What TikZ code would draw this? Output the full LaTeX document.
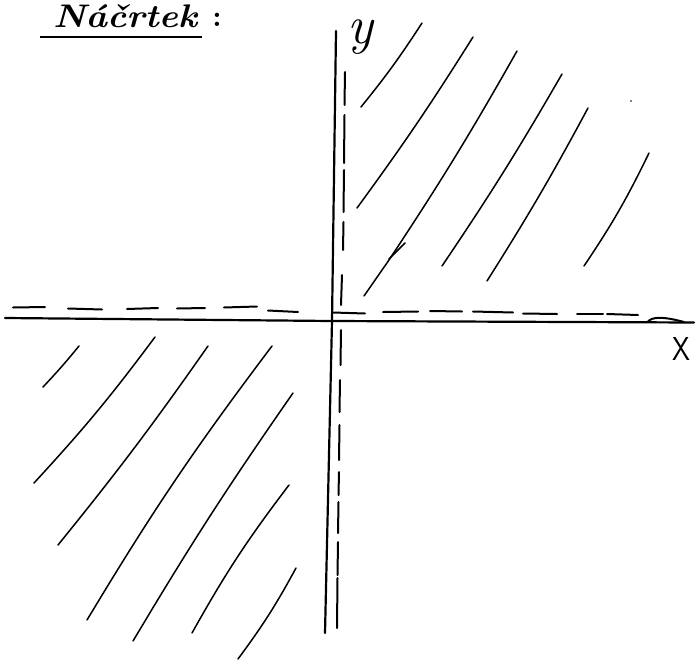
\documentclass[tikz,border=0pt]{standalone}
\usepackage{fontspec}
\begin{document}
\begin{tikzpicture}[x=1pt,y=-1pt,
  axis/.style={line width=2.2pt, line cap=round},
  dsh/.style={line width=2pt, line cap=round},
  hatch/.style={line width=1.5pt, line cap=round}]
\useasboundingbox (0,0) rectangle (696,664);

% title
\node[anchor=base west, inner sep=0] (title) at (53,27) {\resizebox{144pt}{23pt}{\itshape\bfseries Náčrtek}};
\node[anchor=base, inner sep=0] (colon) at (217,26) {\fontsize{30}{30}\selectfont\bfseries :};
\draw[line width=1.8pt] (40,37) -- (202,37);

% axes
\coordinate (xl) at (5,318);
\coordinate (o) at (332,321);
\coordinate (xr) at (694,322.5);
\coordinate (yt) at (336,31);
\coordinate (yb) at (325,633);
\draw[axis] (xl) -- (o) -- (xr);
\draw[axis] (yt) -- (o) -- (yb);

% labels
\node[anchor=base, inner sep=1pt] (ylab) at (360,43) {\fontsize{54}{54}\selectfont\itshape y};
\node[inner sep=0] (xlab) at (681,348.5) {\resizebox*{18pt}{23pt}{\sffamily X}};

% dashed horizontal line
\foreach \a/\b/\c/\d in {13/307.5/45/307, 68/308.5/102/309.5, 127/309/158/308, 177/308.5/205/308,
  224/307.5/257/306.5, 268/310.5/298/312, 333/312.5/365/313.5, 383/312/418/311.5,
  430/311/462/311.5, 473/311.5/513/312.5, 523/313.5/557/314, 577/314/603/314, 607/314/638/315}
  \draw[dsh] (\a,\b) -- (\c,\d);
\draw[dsh] (648,321.5) .. controls (652,317) and (662,316) .. (684,322);

% dashed vertical line
\foreach \a/\b/\c/\d in {345/72/344.5/105, 344.5/115/344/163, 344/170/343.5/212, 343.5/222/343/250,
  342/275/341/305, 341/330/340.5/365, 340/380/339.5/412, 339.5/425/339/460, 339/472/338.5/495,
  338.5/502/338/533, 338/542/337.5/575, 337.5/578/337/628}
  \draw[dsh] (\a,\b) -- (\c,\d);

% hatching, first quadrant
\draw[hatch] (361,107) to[bend right=3] (422,23);
\draw[hatch] (357,208) to[bend right=2] (473,37);
\draw[hatch] (364,296) -- (389,260) to[bend right=2] (517,51);
\draw[hatch] (389,259) -- (405,243);
\draw[hatch] (442,266) to[bend right=2] (562,74);
\draw[hatch] (487,281) to[bend right=2] (588,108);
\draw[hatch] (584,266) to[bend right=4] (649,153);
\fill (631,101) circle (0.9pt);

% hatching, third quadrant
\draw[hatch] (43,387) to[bend right=2] (79,346);
\draw[hatch] (34,483) to[bend right=3] (155,337);
\draw[hatch] (58,545) to[bend right=2] (208,346);
\draw[hatch] (87,620) to[bend left=3] (272,346);
\draw[hatch] (133,641) to[bend left=2] (293,393);
\draw[hatch] (192,633) to[bend left=4] (289,485);
\draw[hatch] (238,659) to[bend right=4] (296,568);
\end{tikzpicture}
\end{document}
